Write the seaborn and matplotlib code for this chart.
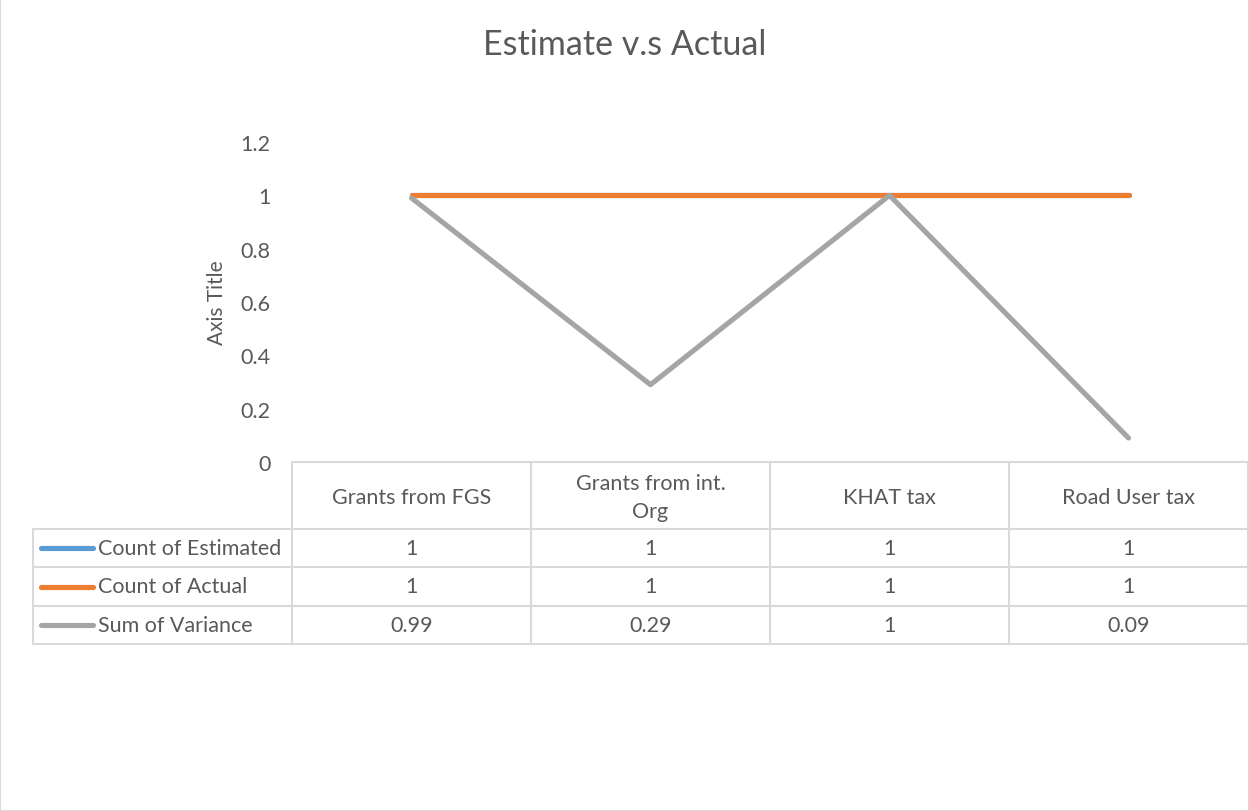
import numpy as np
import pandas as pd
import matplotlib
matplotlib.use("Agg")
import matplotlib.pyplot as plt
from matplotlib.lines import Line2D
from matplotlib.patches import Rectangle
import seaborn as sns

categories = ["Grants from FGS", "Grants from int.\nOrg", "KHAT tax", "Road User tax"]
series_names = ["Count of Estimated", "Count of Actual", "Sum of Variance"]
estimated = [1, 1, 1, 1]
actual = [1, 1, 1, 1]
variance = [0.99, 0.29, 1, 0.09]
colors = ["#5B9BD5", "#ED7D31", "#A5A5A5"]
yticks = [0, 0.2, 0.4, 0.6, 0.8, 1, 1.2]
ytick_labels = ["0", "0.2", "0.4", "0.6", "0.8", "1", "1.2"]

sns.set_theme(style="white")
plt.rcParams["font.family"] = ["Lato", "DejaVu Sans"]
TXT = "#595959"
GRID = "#D9D9D9"
FS = 15.5

W, H = 1249, 812
fig = plt.figure(figsize=(W / 100, H / 100), dpi=100)
fig.patch.set_facecolor("white")

def fx(px):
    return px / W

def fy(py):
    return 1 - py / H

ax_left, ax_right, ax_top, ax_bottom = 292, 1248, 143, 463
ax_w = ax_right - ax_left
ax = fig.add_axes([fx(ax_left), fy(ax_bottom), fx(ax_w), fy(ax_top) - fy(ax_bottom)])

rows = []
for name, vals in zip(series_names, [estimated, actual, variance]):
    for i, v in enumerate(vals):
        rows.append({"x": i, "value": v, "series": name})
df = pd.DataFrame(rows)

sns.lineplot(data=df, x="x", y="value", hue="series", hue_order=series_names,
             palette=colors, linewidth=3.7, ax=ax, legend=False,
             solid_capstyle="round", solid_joinstyle="round")

ax.set_xlim(-0.5, len(categories) - 0.5)
ax.set_ylim(0, 1.2)
ax.set_yticks(yticks)
ax.set_yticklabels(ytick_labels, fontsize=FS, color=TXT)
ax.tick_params(axis="y", length=0, pad=15.5)
ax.set_xticks([])
ax.set_xlabel("")
ax.set_ylabel("Axis Title", fontsize=15, color=TXT)
ax.yaxis.set_label_coords((227 - ax_left) / ax_w, 0.5)
for s in ["top", "right", "left", "bottom"]:
    ax.spines[s].set_visible(False)
ax.grid(False)

fig.text(0.5, fy(45), "Estimate v.s Actual", ha="center", va="center", fontsize=24.5, color=TXT)

# Data table
col_w = ax_w / len(categories)
row_lines = [463, 530, 568, 607, 645]
leg_left = 33

def hline(y, x0, x1):
    fig.add_artist(Line2D([fx(x0), fx(x1)], [fy(y), fy(y)], color=GRID, lw=1.5))

def vline(x, y0, y1):
    fig.add_artist(Line2D([fx(x), fx(x)], [fy(y0), fy(y1)], color=GRID, lw=1.5))

hline(row_lines[0], ax_left, ax_right)
for y in row_lines[1:]:
    hline(y, leg_left, ax_right)
vline(leg_left, row_lines[1], row_lines[-1])
for i in range(len(categories) + 1):
    vline(ax_left + i * col_w, row_lines[0], row_lines[-1])

for i, c in enumerate(categories):
    cx = ax_left + (i + 0.5) * col_w
    fig.text(fx(cx), fy((row_lines[0] + row_lines[1]) / 2 + 1.5), c, ha="center", va="center",
             fontsize=FS, color=TXT, linespacing=1.55)

for r, (name, vals, col) in enumerate(zip(series_names, [estimated, actual, variance], colors)):
    cy = (row_lines[r + 1] + row_lines[r + 2]) / 2
    fig.add_artist(Line2D([fx(41), fx(93)], [fy(cy), fy(cy)], color=col, lw=3.7,
                          solid_capstyle="round"))
    fig.text(fx(98), fy(cy), name, ha="left", va="center", fontsize=FS, color=TXT)
    for i, v in enumerate(vals):
        cx = ax_left + (i + 0.5) * col_w
        fig.text(fx(cx), fy(cy), f"{v:g}", ha="center", va="center", fontsize=FS, color=TXT)

fig.add_artist(Rectangle((0, 0), 1, 1, transform=fig.transFigure, fill=False,
                         edgecolor=GRID, lw=1.5))

fig.savefig("out.png", dpi=100)
